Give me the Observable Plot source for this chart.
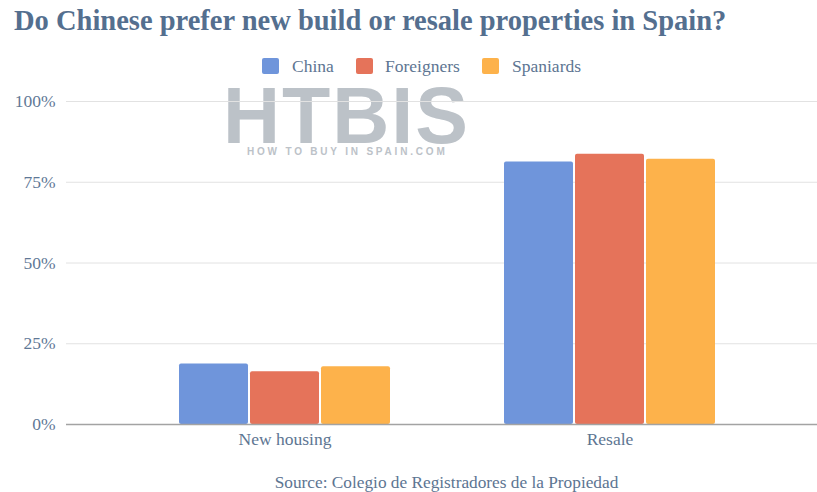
<!DOCTYPE html>
<html>
<head>
<meta charset="utf-8">
<script src="https://cdn.jsdelivr.net/npm/d3@7"></script>
<script src="https://cdn.jsdelivr.net/npm/@observablehq/plot@0.6"></script>
<style>
  body { margin: 0; background: #fff; }
  #wrap { position: relative; width: 817px; height: 492px; overflow: hidden; font-family: "Liberation Serif", "DejaVu Serif", serif; }
  #title { position: absolute; left: 14px; top: 5px; font-size: 28.5px; font-weight: bold; color: #546f8f; white-space: nowrap; }
  #legend { position: absolute; left: 262px; top: 55px; height: 22px; font-size: 17.5px; color: #5d7592; white-space: nowrap; }
  #legend .sw { position: absolute; top: 3px; width: 17px; height: 16px; border-radius: 2px; }
  #legend .lb { position: absolute; top: 0px; line-height: 22px; }
  .layer { position: absolute; left: 0; top: 80px; }
  #caption { position: absolute; left: 0; width: 893px; text-align: center; top: 473px; font-size: 17.3px; color: #5d7592; white-space: nowrap; }
  .wm { position: absolute; color: #bcc2c8; font-family: "Liberation Sans", "DejaVu Sans", sans-serif; font-weight: bold; pointer-events: none; white-space: nowrap; }
  #wmBig { left: 223px; top: 86px; font-size: 79px; line-height: 60px; letter-spacing: 2px; }
  #wmSmall { left: 247px; top: 147px; font-size: 10px; line-height: 10px; letter-spacing: 2.8px; }
</style>
</head>
<body>
<div id="wrap">
  <div id="title">Do Chinese prefer new build or resale properties in Spain?</div>
  <div id="legend"></div>
  <div id="wmBig" class="wm">HTBIS</div>
  <div id="wmSmall" class="wm">HOW TO BUY IN SPAIN.COM</div>
  <div id="grid" class="layer"></div>
  <div id="bars" class="layer"></div>
  <div id="caption">Source: Colegio de Registradores de la Propiedad</div>
</div>
<script>
const categories = ["New housing", "Resale"];
const series = ["China", "Foreigners", "Spaniards"];
const chinaValues = [18.7, 81.3];
const foreignersValues = [16.3, 83.7];
const spaniardsValues = [17.9, 82.1];
const seriesColors = ["#6f95db", "#e5735a", "#fdb24b"];
const yTicks = [0, 25, 50, 75, 100];
const yTickLabels = ["0%", "25%", "50%", "75%", "100%"];

const valuesBySeries = [chinaValues, foreignersValues, spaniardsValues];
const rows = [];
categories.forEach((c, i) => {
  series.forEach((s, j) => rows.push({category: c, series: s, value: valuesBySeries[j][i]}));
});
const tickRows = yTicks.map((v, i) => ({v, label: yTickLabels[i]}));

// legend (positions of swatches and labels)
const legendLayout = [{sw: 0, lb: 30}, {sw: 94, lb: 123}, {sw: 220, lb: 250}];
const legend = document.getElementById("legend");
series.forEach((s, i) => {
  const sw = document.createElement("div");
  sw.className = "sw";
  sw.style.left = legendLayout[i].sw + "px";
  sw.style.background = seriesColors[i];
  const t = document.createElement("span");
  t.className = "lb";
  t.style.left = legendLayout[i].lb + "px";
  t.textContent = s;
  legend.appendChild(sw); legend.appendChild(t);
});

const common = {
  width: 817,
  height: 380,
  marginLeft: 66,
  marginRight: 0,
  marginTop: 21,
  marginBottom: 36,
  style: {fontFamily: "Liberation Serif, serif", fontSize: "17.5px", color: "#5d7592", background: "transparent"},
  y: {domain: [0, 100], axis: null}
};

// background layer: gridlines, y labels
const grid = Plot.plot({
  ...common,
  marks: [
    Plot.ruleY(yTicks.slice(1), {stroke: "#e2e2e2", strokeWidth: 1}),
    Plot.text(tickRows, {y: "v", text: "label", frameAnchor: "left", dx: -11, textAnchor: "end", fontSize: 17.5, fill: "#5f7896"})
  ]
});
document.getElementById("grid").appendChild(grid);

// foreground layer: grouped bars
const bars = Plot.plot({
  ...common,
  fx: {domain: categories, range: [121.5, 771.5], padding: 0, label: null, axis: "bottom", tickSize: 0, tickPadding: 8},
  x: {domain: series, paddingInner: 0.028, paddingOuter: 0.8, axis: null},
  color: {domain: series, range: seriesColors},
  marks: [
    Plot.barY(rows, {fx: "category", x: "series", y: "value", fill: "series", rx: 2})
  ]
});
document.getElementById("bars").appendChild(bars);

// baseline on top
const base = Plot.plot({
  ...common,
  marks: [Plot.ruleY([0], {stroke: "#a3a3a3", strokeWidth: 1.6})]
});
const baseDiv = document.createElement("div");
baseDiv.className = "layer";
baseDiv.appendChild(base);
document.getElementById("wrap").insertBefore(baseDiv, document.getElementById("caption"));
</script>
</body>
</html>
